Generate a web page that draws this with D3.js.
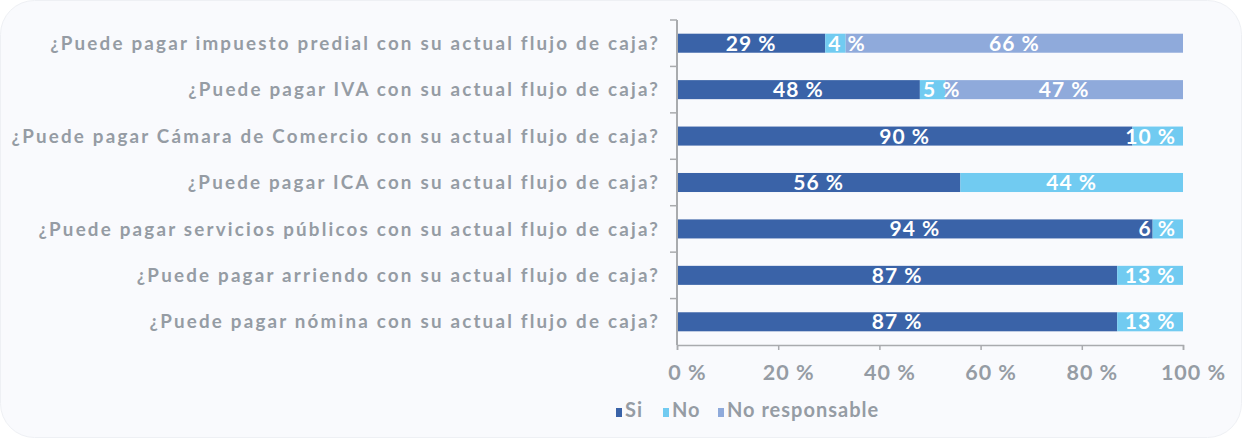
<!DOCTYPE html>
<html>
<head>
<meta charset="utf-8">
<script src="https://cdn.jsdelivr.net/npm/d3@7"></script>
<style>
  html, body { margin: 0; padding: 0; background: #ffffff; }
  svg text { font-family: "Lato", "Open Sans", sans-serif; font-weight: 700; }
</style>
</head>
<body>
<div id="chart"></div>
<script>
// questions, top to bottom
const questions = [
    "¿Puede pagar impuesto predial con su actual flujo de caja?",
    "¿Puede pagar IVA con su actual flujo de caja?",
    "¿Puede pagar Cámara de Comercio con su actual flujo de caja?",
    "¿Puede pagar ICA con su actual flujo de caja?",
    "¿Puede pagar servicios públicos con su actual flujo de caja?",
    "¿Puede pagar arriendo con su actual flujo de caja?",
    "¿Puede pagar nómina con su actual flujo de caja?"
];
const seriesNames = ["Si", "No", "No responsable"];
const siValues = [29, 48, 90, 56, 94, 87, 87];
const noValues = [4, 5, 10, 44, 6, 13, 13];
const nrValues = [66, 47, 0, 0, 0, 0, 0];
const xTicks = [0, 20, 40, 60, 80, 100];
const colors = ["#3A63A8", "#71CBF1", "#8FAADB"];

const W = 1242, H = 438;
const margin = { top: 20, right: 59, bottom: 93, left: 677 };
const width = W - margin.left - margin.right;
const height = H - margin.top - margin.bottom;

const rows = questions.map((q, i) => ({
    q: q, "Si": siValues[i], "No": noValues[i], "No responsable": nrValues[i]
}));

const stacked = d3.stack()
    .keys(seriesNames)
    .offset(d3.stackOffsetExpand)(rows);

const svg = d3.select("#chart").append("svg")
    .attr("width", W)
    .attr("height", H);

svg.append("rect")
    .attr("x", 0.5).attr("y", 0.5)
    .attr("width", W - 1).attr("height", H - 1)
    .attr("rx", 34)
    .attr("fill", "#F9FAFD")
    .attr("stroke", "#EEF0F4");

const chart = svg.append("g")
    .attr("transform", `translate(${margin.left},${margin.top})`);

const x = d3.scaleLinear().domain([0, 1]).range([0, width]);
const y = d3.scaleBand().domain(questions).range([0, height]).paddingInner(0.59).paddingOuter(0.295);
const yAxisBand = d3.scaleBand().domain(questions).range([0, height]);
const color = d3.scaleOrdinal().domain(seriesNames).range(colors);

// bars
const layers = chart.selectAll(".layer")
    .data(stacked)
    .join("g")
    .attr("fill", d => color(d.key));

layers.selectAll("rect")
    .data(d => d)
    .join("rect")
    .attr("x", d => x(d[0]))
    .attr("y", d => y(d.data.q))
    .attr("width", d => x(d[1]) - x(d[0]))
    .attr("height", y.bandwidth());

// axes
const textGray = "#959CA4";
const axisGray = "#A9ABAE";

const xAxis = chart.append("g")
    .attr("transform", `translate(0,${height})`)
    .call(d3.axisBottom(x).tickValues(xTicks.map(t => t / 100)).tickSize(5).tickPadding(15)
        .tickFormat(d => Math.round(d * 100) + " %"));
xAxis.select(".domain").attr("stroke", axisGray).attr("stroke-width", 1.5);
xAxis.selectAll(".tick line").attr("stroke", axisGray).attr("stroke-width", 1.5);
xAxis.selectAll(".tick text")
    .attr("fill", textGray)
    .attr("dx", 10)
    .style("font-size", "21.5px")
    .style("letter-spacing", "1px");

// left axis: tick marks on category boundaries
const yAxis = chart.append("g");
yAxis.append("line")
    .attr("x1", 0).attr("x2", 0)
    .attr("y1", 0).attr("y2", height)
    .attr("stroke", axisGray).attr("stroke-width", 2);
yAxis.selectAll(".bound")
    .data(questions)
    .join("line")
    .attr("x1", -7).attr("x2", 0)
    .attr("y1", d => yAxisBand(d))
    .attr("y2", d => yAxisBand(d))
    .attr("stroke", axisGray).attr("stroke-width", 1.5);

yAxis.selectAll(".qlabel")
    .data(questions)
    .join("text")
    .attr("x", -17)
    .attr("y", d => y(d) + y.bandwidth() / 2)
    .attr("dy", "0.35em")
    .attr("text-anchor", "end")
    .attr("fill", textGray)
    .style("font-size", "18.8px")
    .style("letter-spacing", "2.2px")
    .text(d => d);

// value labels, drawn above all bars
const labelData = [];
stacked.forEach(s => s.forEach(v => {
    if (v[1] - v[0] > 0) labelData.push({ v: v, key: s.key });
}));

chart.append("g").selectAll("text")
    .data(labelData)
    .join("text")
    .attr("y", d => y(d.v.data.q) + y.bandwidth() / 2)
    .attr("dy", "0.36em")
    .attr("fill", "#ffffff")
    .style("font-size", "21px")
    .style("letter-spacing", "1px")
    .text(d => d.v.data[d.key] + " %")
    .each(function(d) {
        const tw = this.getComputedTextLength();
        const x0 = x(d.v[0]), x1 = x(d.v[1]);
        let left = (x0 + x1) / 2 - tw / 2;
        if (tw + 6 > x1 - x0) {
            left = d.v[1] >= 0.999 ? x1 - 7 - tw : x0 + 3;
        }
        d3.select(this).attr("x", left);
    });

// legend
const legend = svg.append("g").attr("transform", "translate(616,417)");
const legendX = [0, 47, 102];
seriesNames.forEach((name, i) => {
    const g = legend.append("g").attr("transform", `translate(${legendX[i]},0)`);
    g.append("rect")
        .attr("x", 0).attr("y", -9)
        .attr("width", 6).attr("height", 9)
        .attr("fill", colors[i]);
    g.append("text")
        .attr("x", 9)
        .attr("fill", textGray)
        .style("font-size", "20px")
        .style("letter-spacing", "1px")
        .text(name);
});
</script>
</body>
</html>
